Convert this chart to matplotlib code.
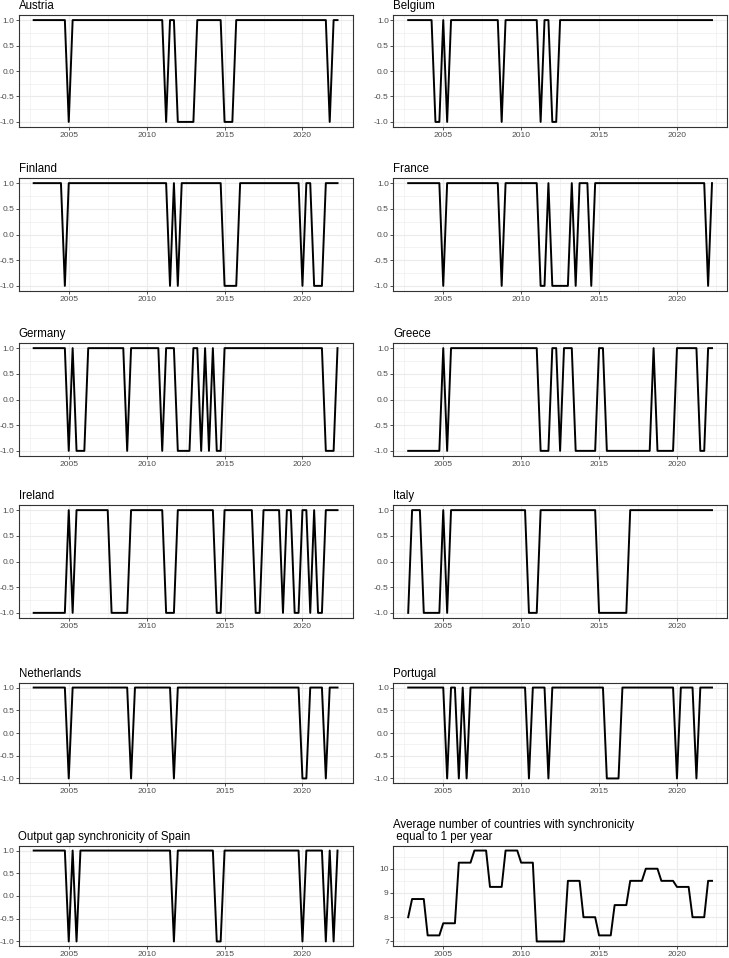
import numpy as np
import pandas as pd
import matplotlib
matplotlib.use("Agg")
import matplotlib.pyplot as plt

plt.rcParams["font.family"] = ["Liberation Sans", "DejaVu Sans"]

# quarterly time axis, 2002Q4 .. 2022Q2
quarters = pd.period_range("2002Q4", "2022Q2", freq="Q")

# spells (first quarter, last quarter) in which the synchronicity is -1
austria = [("2005Q1", "2005Q1"), ("2011Q2", "2011Q2"), ("2012Q1", "2013Q1"),
           ("2015Q1", "2015Q3"), ("2021Q4", "2021Q4")]
belgium = [("2004Q3", "2004Q4"), ("2005Q2", "2005Q2"), ("2008Q4", "2008Q4"),
           ("2011Q2", "2011Q2"), ("2012Q1", "2012Q2")]
finland = [("2004Q4", "2004Q4"), ("2011Q3", "2011Q3"), ("2012Q1", "2012Q1"),
           ("2015Q1", "2015Q4"), ("2020Q1", "2020Q1"), ("2020Q4", "2021Q2")]
france = [("2005Q1", "2005Q1"), ("2008Q4", "2008Q4"), ("2011Q2", "2011Q3"),
          ("2012Q1", "2013Q1"), ("2013Q3", "2013Q3"), ("2014Q3", "2014Q3"),
          ("2022Q1", "2022Q1")]
germany = [("2005Q1", "2005Q1"), ("2005Q3", "2006Q1"), ("2008Q4", "2008Q4"),
           ("2011Q1", "2011Q1"), ("2012Q1", "2012Q4"), ("2013Q3", "2013Q3"),
           ("2014Q1", "2014Q1"), ("2014Q3", "2014Q4"), ("2021Q3", "2022Q1")]
greece = [("2002Q4", "2004Q4"), ("2005Q2", "2005Q2"), ("2011Q2", "2011Q4"),
          ("2012Q3", "2012Q3"), ("2013Q3", "2014Q4"), ("2015Q3", "2018Q2"),
          ("2018Q4", "2019Q4"), ("2021Q3", "2021Q4")]
ireland = [("2002Q4", "2004Q4"), ("2005Q2", "2005Q2"), ("2007Q4", "2008Q4"),
           ("2011Q2", "2011Q4"), ("2014Q3", "2014Q4"), ("2017Q1", "2017Q2"),
           ("2018Q4", "2018Q4"), ("2019Q3", "2019Q4"), ("2020Q3", "2020Q3"),
           ("2021Q1", "2021Q2")]
italy = [("2002Q4", "2002Q4"), ("2003Q4", "2004Q4"), ("2005Q2", "2005Q2"),
         ("2010Q3", "2011Q1"), ("2015Q1", "2016Q4")]
netherlands = [("2005Q1", "2005Q1"), ("2009Q1", "2009Q1"), ("2011Q4", "2011Q4"),
               ("2020Q1", "2020Q2"), ("2021Q3", "2021Q3")]
portugal = [("2005Q2", "2005Q2"), ("2006Q1", "2006Q1"), ("2006Q3", "2006Q3"),
            ("2010Q3", "2010Q3"), ("2011Q4", "2011Q4"), ("2015Q3", "2016Q2"),
            ("2020Q1", "2020Q1"), ("2021Q2", "2021Q2")]
spain = [("2005Q1", "2005Q1"), ("2005Q3", "2005Q3"), ("2011Q4", "2011Q4"),
         ("2014Q3", "2014Q4"), ("2020Q1", "2020Q1"), ("2021Q3", "2021Q3"),
         ("2022Q1", "2022Q1")]

# yearly average number of countries with synchronicity equal to 1
avg_years = list(range(2002, 2023))
avg_values = [8, 8.75, 7.25, 7.75, 10.25, 10.75, 9.25, 10.75, 10.25, 7, 7,
              9.5, 8, 7.25, 8.5, 9.5, 10, 9.5, 9.25, 8, 9.5]

panels = [("Austria", austria), ("Belgium", belgium),
          ("Finland", finland), ("France", france),
          ("Germany", germany), ("Greece", greece),
          ("Ireland", ireland), ("Italy", italy),
          ("Netherlands", netherlands), ("Portugal", portugal),
          ("Output gap synchronicity of Spain", spain)]

t = np.array([p.year + (p.quarter - 1) / 4 for p in quarters])


def build_series(spells):
    s = pd.Series(1.0, index=quarters)
    for a, b in spells:
        s.loc[pd.Period(a, "Q"):pd.Period(b, "Q")] = -1.0
    return s.values


W, H = 729, 958
fig = plt.figure(figsize=(W / 100, H / 100), dpi=100)
col_left = [18.5, 393.0]
panel_w = 334.2
rows = [(15, 127), (178, 291), (343, 456), (505, 618), (683, 783), (846, 946)]


def add_panel(i):
    top, bot = rows[i // 2]
    x0 = col_left[i % 2]
    return fig.add_axes([x0 / W, 1 - bot / H, panel_w / W, (bot - top) / H])


def style(ax):
    for s in ax.spines.values():
        s.set_color("#333333")
        s.set_linewidth(0.8)
    ax.grid(which="major", color="#EBEBEB", lw=0.8)
    ax.grid(which="minor", color="#EBEBEB", lw=0.4)
    ax.set_axisbelow(True)
    ax.tick_params(which="major", length=2.0, width=0.6, color="#333333",
                   labelsize=6.1, labelcolor="#4D4D4D", pad=1.0)
    ax.tick_params(axis="x", which="major", pad=1.5)
    ax.tick_params(which="minor", length=0)
    ax.set_xlim(2001.775, 2023.225)
    ax.set_xticks([2005, 2010, 2015, 2020])
    ax.set_xticks([2002.5, 2007.5, 2012.5, 2017.5, 2022.5], minor=True)


for i, (name, spells) in enumerate(panels):
    ax = add_panel(i)
    style(ax)
    ax.plot(t, build_series(spells), color="black", lw=1.4)
    ax.set_ylim(-1.1, 1.1)
    ax.set_yticks([-1, -0.5, 0, 0.5, 1])
    ax.set_yticklabels(["-1.0", "-0.5", "0.0", "0.5", "1.0"])
    ax.set_yticks([-0.75, -0.25, 0.25, 0.75], minor=True)
    ax.set_title(name, loc="left", fontsize=8.3, pad=4)

ax = add_panel(11)
style(ax)
avg_q = [avg_values[avg_years.index(p.year)] for p in quarters]
ax.plot(t, avg_q, color="black", lw=1.4)
ax.set_ylim(6.8125, 10.9375)
ax.set_yticks([7, 8, 9, 10])
ax.set_yticks([7.5, 8.5, 9.5, 10.5], minor=True)
ax.set_title("Average number of countries with synchronicity\n equal to 1 per year",
             loc="left", fontsize=8.3, pad=4, linespacing=1.0)

fig.savefig("out.png", dpi=100, facecolor="white")
